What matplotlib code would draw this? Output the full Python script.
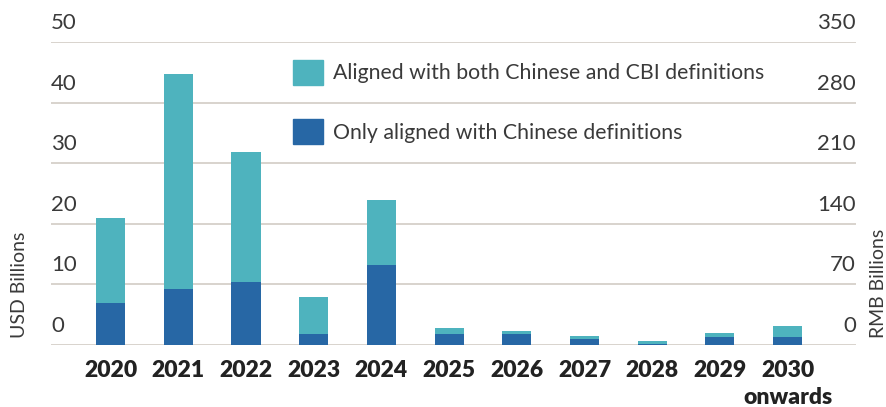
import matplotlib
matplotlib.use("Agg")
import matplotlib.pyplot as plt
import matplotlib.transforms as mtransforms
from matplotlib.patches import Patch
import numpy as np

plt.rcParams['font.family'] = ['Lato', 'DejaVu Sans']

years = ["2020", "2021", "2022", "2023", "2024", "2025", "2026", "2027", "2028", "2029", "2030\nonwards"]
only_chinese = [6.9, 9.2, 10.4, 1.8, 13.2, 1.86, 1.86, 1.04, 0.2, 1.37, 1.37]
total = [20.9, 44.8, 31.8, 7.9, 24.0, 2.85, 2.35, 1.53, 0.71, 2.0, 3.2]
both = [t - c for t, c in zip(total, only_chinese)]

usd_ticks = [0, 10, 20, 30, 40, 50]
rmb_ticks = [0, 70, 140, 210, 280, 350]

teal = "#4EB3BE"
dark = "#2767A5"
grid_c = "#d6d0c9"
txt_c = "#3a3a3a"

fig = plt.figure(figsize=(8.86, 4.07), dpi=100)
ax = fig.add_axes([51 / 886, 1 - 345 / 407, (856 - 51) / 886, (345 - 42) / 407])

x = np.arange(len(years))
w = 0.43
ax.bar(x, only_chinese, width=w, color=dark, zorder=3)
ax.bar(x, both, width=w, bottom=only_chinese, color=teal, zorder=3)

ax.set_xlim(-0.88, len(years) - 1 + 1.01)
ax.set_ylim(0, 50)
for t in usd_ticks:
    ax.axhline(t, color=grid_c, lw=1.3, zorder=1)

for s in ax.spines.values():
    s.set_visible(False)
ax.set_yticks([])
ax.set_xticks(x)
ax.set_xticklabels(years, fontsize=16.5, fontweight='heavy', color="#222222", linespacing=1.35)
for lab in ax.get_xticklabels():
    lab.set_verticalalignment('top')
ax.tick_params(axis='x', length=0, pad=11)

off = mtransforms.offset_copy(ax.get_yaxis_transform(), fig=fig, x=0, y=6.5, units='points')
for t in usd_ticks:
    ax.text(0, t, str(t), transform=off, ha='left', va='bottom', fontsize=16,
            color=txt_c)

rmb_scale = 350 / 50
for t in rmb_ticks:
    ax.text(1, t / rmb_scale, str(t), transform=off, ha='right', va='bottom', fontsize=16,
            color=txt_c)

fig.text(20 / 886, 1 - 285 / 407, "USD Billions", rotation=90, ha='center', va='center',
         fontsize=14, color=txt_c)
fig.text(878 / 886, 1 - 283 / 407, "RMB Billions", rotation=90, ha='center', va='center',
         fontsize=14, color=txt_c)

handles = [Patch(color=teal, label="Aligned with both Chinese and CBI definitions"),
           Patch(color=dark, label="Only aligned with Chinese definitions")]
fig.legend(handles=handles, loc='upper left', bbox_to_anchor=(293 / 886, 1 - 60 / 407),
           frameon=False, fontsize=15.3, handlelength=1.4, handleheight=1.4,
           labelspacing=1.63, handletextpad=0.5, borderpad=0, borderaxespad=0,
           labelcolor=txt_c)

fig.savefig("out.png", dpi=100)
